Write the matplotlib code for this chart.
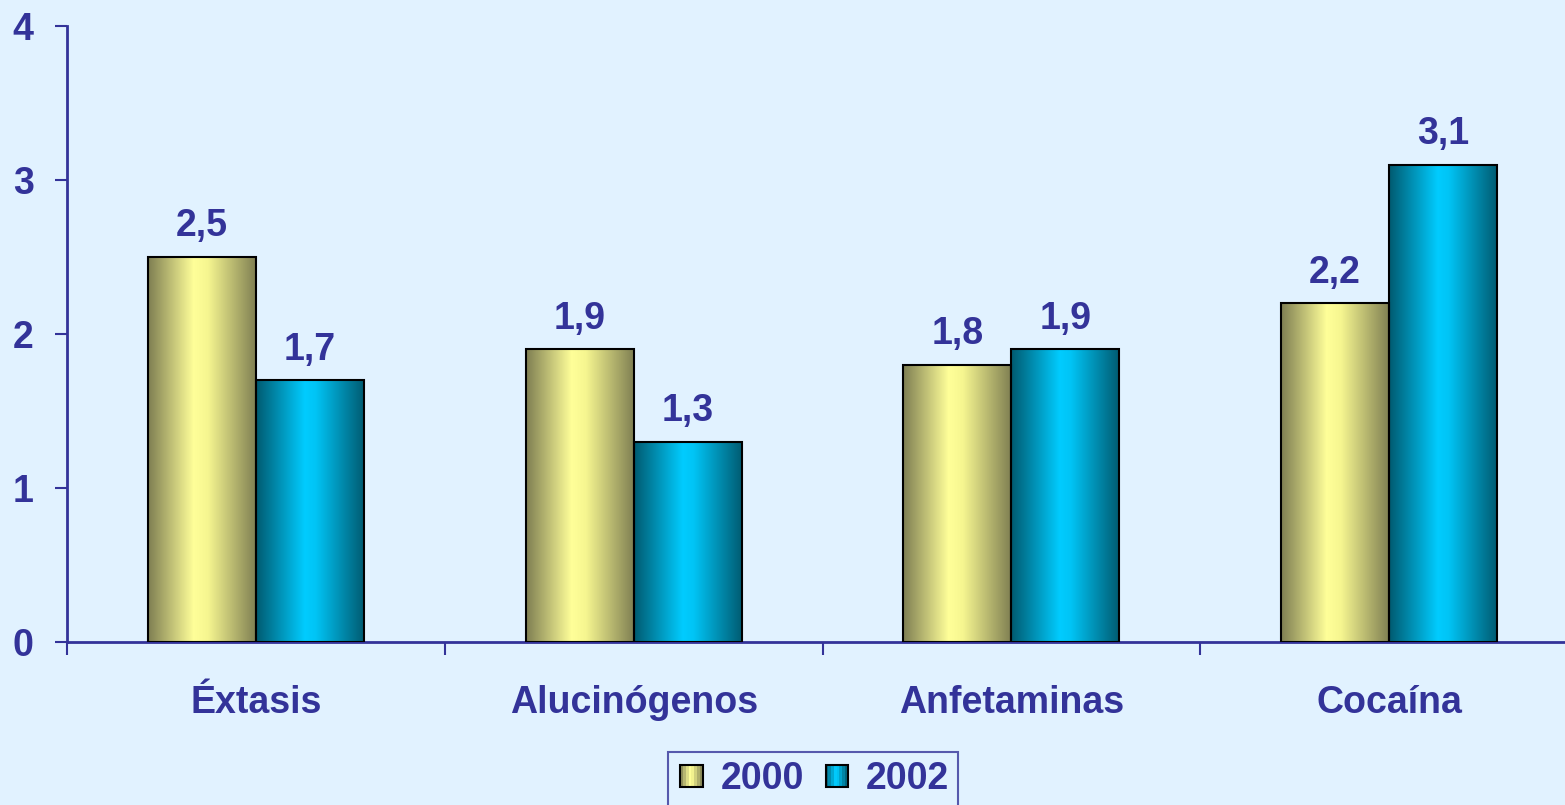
import numpy as np
import matplotlib.pyplot as plt
from matplotlib.colors import LinearSegmentedColormap
from matplotlib.patches import Rectangle
from matplotlib.legend_handler import HandlerBase

categories = ["Éxtasis", "Alucinógenos", "Anfetaminas", "Cocaína"]
years = ["2000", "2002"]
v2000 = [2.5, 1.9, 1.8, 2.2]
v2002 = [1.7, 1.3, 1.9, 3.1]
labels2000 = ["2,5", "1,9", "1,8", "2,2"]
labels2002 = ["1,7", "1,3", "1,9", "3,1"]
yticks = [0, 1, 2, 3, 4]

navy = "#333399"
bg = "#E1F2FF"
fs = 27
plt.rcParams["font.family"] = ["Liberation Sans", "DejaVu Sans"]
plt.rcParams["font.weight"] = "bold"

cmap_y = LinearSegmentedColormap.from_list(
    "yel", [(0, "#7E7E52"), (0.42, "#FFFF99"), (0.55, "#F6F690"), (1, "#7E7E52")])
cmap_c = LinearSegmentedColormap.from_list(
    "cya", [(0, "#005A70"), (0.45, "#00CCFF"), (0.55, "#00C4F5"), (1, "#005A70")])

W, H = 1565, 805
fig = plt.figure(figsize=(W / 100, H / 100), dpi=100, facecolor=bg)
ax = fig.add_axes([67 / W, 1 - 642 / H, (1578 - 67) / W, (642 - 26) / H])
ax.set_facecolor(bg)

x = np.arange(len(categories))
w = 0.286
grad = np.linspace(0, 1, 256).reshape(1, -1)


def gradient_bars(vals, offset, cmap):
    bars = ax.bar(x + offset, vals, w, facecolor="none", edgecolor="black",
                  linewidth=1.5, zorder=3)
    for b in bars:
        x0, y0 = b.get_x(), b.get_y()
        im = ax.imshow(grad, cmap=cmap, aspect="auto", zorder=2,
                       extent=[x0, x0 + b.get_width(), y0, y0 + b.get_height()])
        im.set_clip_path(b)
    return bars


b1 = gradient_bars(v2000, -w / 2, cmap_y)
b2 = gradient_bars(v2002, w / 2, cmap_c)
for bars, labs in ((b1, labels2000), (b2, labels2002)):
    for b, t in zip(bars, labs):
        ax.annotate(t, (b.get_x() + b.get_width() / 2, b.get_height()),
                    xytext=(0, 9), textcoords="offset points", ha="center",
                    va="bottom", color=navy, fontsize=fs, fontweight="bold")

ax.set_xlim(-0.5, len(categories) - 0.5)
ax.set_ylim(0, 4)
ax.set_yticks(yticks)
ax.set_yticklabels([str(t) for t in yticks])
ax.set_xticks(x)
ax.set_xticklabels(categories)
ax.set_xticks(np.arange(len(categories) + 1) - 0.5, minor=True)
ax.tick_params(axis="x", which="major", length=0, pad=31, labelsize=fs,
               labelcolor=navy)
ax.tick_params(axis="x", which="minor", length=9, width=1.5, color=navy,
               direction="out")
ax.tick_params(axis="y", length=9, width=1.5, color=navy, pad=15,
               labelsize=fs, labelcolor=navy)
for lab in ax.get_xticklabels() + ax.get_yticklabels():
    lab.set_fontweight("bold")
for s in ("top", "right"):
    ax.spines[s].set_visible(False)
for s in ("left", "bottom"):
    ax.spines[s].set_color(navy)
    ax.spines[s].set_linewidth(2)


class GradHandler(HandlerBase):
    def __init__(self, cmap):
        super().__init__()
        self.cmap = cmap

    def create_artists(self, legend, orig, xd, yd, width, height, fontsize, trans):
        side = height * 0.85
        x0 = xd + (width - side) / 2
        y0 = -yd + (height - side) / 2
        arts = []
        n = 8
        for i in range(n):
            r = Rectangle((x0 + i * side / n, y0), side / n, side,
                          facecolor=self.cmap((i + 0.5) / n), edgecolor="none",
                          transform=trans)
            arts.append(r)
        arts.append(Rectangle((x0, y0), side, side, facecolor="none",
                              edgecolor="black", linewidth=1.5, transform=trans))
        return arts


h1 = Rectangle((0, 0), 1, 1)
h2 = Rectangle((0, 0), 1, 1)
leg = fig.legend([h1, h2], years, loc="upper left",
                 bbox_to_anchor=(668 / W, 1 - 752 / H),
                 handler_map={h1: GradHandler(cmap_y), h2: GradHandler(cmap_c)},
                 ncol=2, fontsize=fs, frameon=True, fancybox=False,
                 handlelength=0.75, handletextpad=0.4, columnspacing=0.5,
                 borderpad=0.25, borderaxespad=0)
leg.get_frame().set_edgecolor(navy)
leg.get_frame().set_facecolor(bg)
leg.get_frame().set_linewidth(1.5)
for t in leg.get_texts():
    t.set_color(navy)
    t.set_fontweight("bold")

fig.savefig("out.png", dpi=100, facecolor=bg)
